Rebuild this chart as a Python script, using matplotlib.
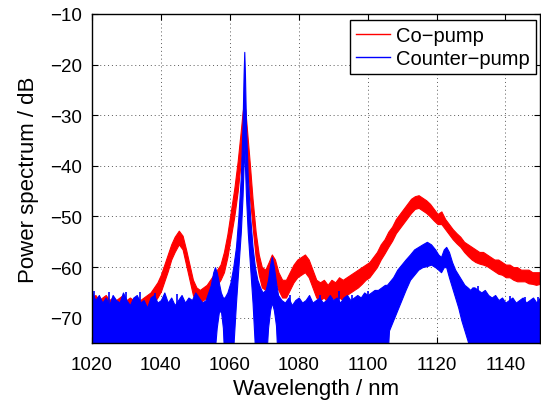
import matplotlib
matplotlib.use("Agg")
import matplotlib.pyplot as plt

plt.rcParams['font.family'] = ['Liberation Sans', 'DejaVu Sans']

# ---- data (upper / lower edges of the noisy traces, dB) ----
red_wl = [1020, 1021, 1022, 1023, 1024, 1025, 1026, 1027, 1028, 1029, 1030, 1031, 1032, 1033,
          1034, 1035, 1036, 1037, 1038, 1039, 1040, 1041, 1042, 1043, 1044, 1045.2, 1046.3,
          1047.3, 1048.3, 1049.3, 1050.3, 1051.3, 1052.3, 1053.3, 1054.3, 1055.3, 1056.3,
          1057.3, 1058.3, 1059.3, 1060.3, 1061.3, 1062.3, 1063.2, 1063.7, 1064.1, 1064.5,
          1065.0, 1065.8, 1066.6, 1067.5, 1068.4, 1069.3, 1070.3, 1071.3, 1072.2, 1073.1,
          1074.1, 1075.2, 1076.3, 1077.4, 1078.5, 1079.6, 1080.7, 1081.8, 1082.9, 1084.0,
          1085.1, 1086.2, 1087.3, 1088.4, 1089.5, 1090.6, 1091.7, 1092.8, 1093.9, 1095.0,
          1096.1, 1097.2, 1098.3, 1099.4, 1100.5, 1101.6, 1102.7, 1103.8, 1104.9, 1106.0,
          1107.1, 1108.2, 1109.3, 1110.4, 1111.5, 1112.6, 1113.7, 1114.8, 1115.9, 1117.0,
          1118.1, 1119.2, 1120.3, 1121.4, 1122.5, 1123.6, 1124.7, 1125.8, 1126.9, 1128.0,
          1129.1, 1130.2, 1131.3, 1132.4, 1133.5, 1134.6, 1135.7, 1136.8, 1137.9, 1139.0,
          1140.1, 1141.2, 1142.3, 1143.4, 1144.5, 1145.6, 1146.7, 1147.8, 1148.9, 1150.0]
red_hi = [-66.0, -65.5, -66.5, -66.0, -65.5, -66.5, -66.0, -66.5, -66.0, -65.5, -66.5, -66.0,
          -66.5, -66.0, -66.5, -66.0, -65.5, -65.0, -64.0, -63.0, -61.5, -59.5, -57.5, -55.5,
          -54.0, -52.8, -53.8, -56.5, -59.5, -62.5, -64.0, -64.5, -64.0, -63.5, -62.5, -61.5,
          -60.5, -59.5, -57.0, -53.5, -49.0, -44.5, -39.0, -33.0, -29.5, -27.5, -29.0, -33.0,
          -39.5, -46.5, -53.0, -57.5, -60.0, -60.5, -59.0, -57.5, -58.5, -61.0, -62.5, -62.5,
          -61.0, -59.5, -58.5, -58.0, -57.5, -58.5, -60.5, -62.5, -63.0, -62.5, -63.5, -62.5,
          -63.0, -62.0, -62.5, -62.0, -61.5, -61.0, -60.5, -60.0, -59.5, -59.0, -58.0, -57.0,
          -55.5, -54.5, -53.0, -52.0, -50.5, -49.5, -48.5, -47.5, -46.5, -46.0, -45.8, -46.3,
          -46.8, -47.5, -48.5, -49.5, -49.0, -50.5, -51.5, -52.5, -53.3, -54.0, -55.0, -55.5,
          -56.0, -56.5, -57.0, -57.0, -57.5, -58.0, -58.5, -58.5, -59.0, -59.5, -59.5, -60.0,
          -60.0, -60.5, -60.5, -60.5, -61.0, -61.0, -61.0]
red_lo = [-69.0, -68.5, -69.5, -69.0, -68.5, -69.0, -69.5, -69.0, -68.5, -69.0, -69.5, -69.0,
          -69.5, -69.0, -69.5, -69.0, -68.5, -68.0, -67.0, -66.0, -64.8, -62.8, -60.8, -58.5,
          -57.0, -55.5, -56.5, -59.5, -62.5, -65.5, -67.0, -67.0, -66.5, -66.0, -65.0, -64.0,
          -63.5, -62.5, -61.0, -58.0, -54.0, -50.0, -45.0, -39.0, -35.0, -32.0, -34.5, -39.5,
          -46.0, -52.0, -58.0, -61.5, -64.0, -64.5, -63.0, -61.5, -62.5, -64.5, -66.0, -66.0,
          -64.5, -63.0, -62.0, -61.5, -61.0, -62.0, -64.0, -66.0, -66.5, -66.0, -67.0, -66.0,
          -66.5, -66.0, -66.5, -65.5, -65.0, -64.5, -64.0, -63.3, -62.5, -62.0, -61.0, -60.0,
          -58.5, -57.3, -56.0, -54.8, -53.3, -52.3, -51.3, -50.3, -49.3, -48.5, -48.3, -48.8,
          -49.3, -50.0, -50.8, -51.5, -51.5, -52.5, -53.5, -54.5, -55.3, -56.0, -57.0, -57.8,
          -58.5, -59.0, -59.3, -59.5, -59.8, -60.3, -60.8, -61.3, -61.5, -62.0, -62.0, -62.5,
          -62.8, -62.8, -62.8, -63.2, -63.3, -63.5, -63.3]

blue_wl = [1020, 1021, 1022, 1023, 1024, 1025, 1026, 1027, 1028, 1029, 1030, 1031, 1032, 1033,
           1034, 1035, 1036, 1037, 1038, 1039, 1040, 1041, 1042, 1043, 1044, 1045, 1046, 1047,
           1048, 1049, 1050, 1051, 1052, 1053, 1054, 1054.5, 1055.2, 1055.7, 1056.2, 1056.8,
           1057.4, 1058.0, 1058.5, 1059.3, 1060.2, 1061.0, 1061.8, 1062.5, 1063.2, 1063.7,
           1064.0, 1064.2, 1064.4, 1064.7, 1065.2, 1065.9, 1066.6, 1067.3, 1068.0, 1068.8,
           1069.5, 1070.4, 1071.1, 1071.7, 1072.2, 1072.8, 1073.4, 1074.0, 1075, 1076, 1077,
           1078, 1079, 1080, 1081, 1082, 1083, 1084, 1085, 1086, 1087, 1088, 1089, 1090, 1091,
           1092, 1093, 1094, 1095, 1096, 1097, 1098, 1099, 1100, 1101, 1102, 1103, 1104, 1105,
           1105.6, 1106.2, 1107.4, 1108.6, 1109.8, 1111.0, 1112.3, 1113.5, 1114.7, 1115.9,
           1117.2, 1118.4, 1119.6, 1120.5, 1121.3, 1122.1, 1122.8, 1123.6, 1124.5, 1125.4,
           1126.3, 1127.2, 1128.1, 1129.0, 1129.8, 1130.4, 1131, 1132, 1133, 1134, 1135, 1136,
           1137, 1138, 1139, 1140, 1141, 1142, 1143, 1144, 1145, 1146, 1147, 1148, 1149, 1150]
blue_hi = [-65.0, -66.5, -65.5, -67.0, -66.0, -67.5, -65.5, -66.5, -67.0, -65.0, -66.5, -67.5,
           -66.0, -65.5, -67.0, -66.5, -68.0, -66.0, -65.5, -67.0, -66.5, -65.0, -67.0, -66.0,
           -67.5, -66.5, -65.5, -67.0, -66.0, -66.5, -65.0, -66.0, -67.0, -66.5, -64.5, -63.5,
           -61.0, -60.0, -61.0, -63.0, -65.0, -66.0, -66.0, -65.0, -63.0, -60.0, -56.0, -50.0,
           -42.0, -32.0, -22.0, -17.5, -22.0, -32.0, -42.0, -50.0, -56.0, -60.0, -62.5, -64.0,
           -65.0, -64.5, -62.5, -59.5, -58.0, -60.0, -63.0, -65.5, -66.5, -67.0, -66.0, -67.5,
           -66.5, -66.0, -67.0, -66.5, -65.5, -67.0, -66.5, -66.0, -67.0, -66.5, -65.5, -66.5,
           -66.0, -67.0, -66.0, -65.5, -66.5, -66.0, -65.5, -66.0, -65.0, -65.5, -65.0, -64.5,
           -64.5, -64.0, -63.5, -63.5, -63.0, -62.0, -60.5, -59.5, -58.5, -57.5, -56.5, -56.0,
           -55.5, -55.0, -55.5, -56.5, -57.5, -58.0, -56.5, -56.0, -57.0, -59.0, -60.5, -61.5,
           -62.5, -63.5, -64.0, -64.5, -64.0, -64.0, -64.5, -65.0, -64.5, -65.5, -66.0, -65.5,
           -66.5, -66.0, -67.0, -66.5, -66.0, -67.0, -66.5, -66.0, -67.0, -66.5, -66.0, -67.0,
           -66.0]
blue_lo = [-80.0] * 35 + [-80.0, -80.0, -76.0, -72.0, -69.0, -68.5, -72.0, -80.0, -80.0,
           -80.0, -76.0, -67.0, -60.0, -53.0, -46.0, -40.0, -36.0, -40.0, -46.0, -53.0, -60.0,
           -67.0, -76.0, -80.0, -80.0, -80.0, -80.0, -72.0, -68.5, -67.0, -68.5, -71.5,
           -80.0] + [-80.0] * 31 + [-80.0, -72.5, -70.5, -68.5, -66.5, -64.5, -62.5, -61.5,
           -60.5, -60.0, -59.8, -59.5, -60.0, -60.5, -61.0, -60.0, -60.0, -62.0, -64.0, -66.0,
           -68.0, -70.5, -72.5, -74.5, -76.5, -80.0] + [-80.0] * 20

# isolated noise spikes on top of the counter-pump noise floor
spike_wl = [1020.6, 1024.9, 1029.9, 1033.9, 1038.3, 1044.7, 1077.5, 1086.2, 1091.7, 1095.4,
            1100.0, 1132.0, 1141.3, 1145.7, 1149.4]
spike_top = [-64.7, -65.0, -65.0, -65.0, -65.2, -65.4, -65.5, -65.6, -64.7, -65.5, -64.8,
             -63.8, -65.7, -65.8, -65.8]

x_ticks = [1020, 1040, 1060, 1080, 1100, 1120, 1140]
y_ticks = [-70, -60, -50, -40, -30, -20, -10]
labels = ['Co\u2212pump', 'Counter\u2212pump']

fig = plt.figure(figsize=(5.41, 4.02), dpi=100)
ax = fig.add_axes([0.170, 0.144, 0.828, 0.819])

ax.fill_between(red_wl, red_lo, red_hi, color=(1, 0, 0), lw=0.8, zorder=2)
ax.fill_between(blue_wl, blue_lo, blue_hi, color=(0, 0, 1), lw=0.8, zorder=3)
ax.vlines(spike_wl, -80, spike_top, color=(0, 0, 1), lw=1.2, zorder=3)

ax.plot([], [], color=(1, 0, 0), lw=1.0, label=labels[0])
ax.plot([], [], color=(0, 0, 1), lw=1.0, label=labels[1])

ax.set_xlim(1020, 1150)
ax.set_ylim(-75, -10)
ax.set_xticks(x_ticks)
ax.set_yticks(y_ticks)
ax.grid(True, color='0.35', linestyle=(0, (1, 3)), lw=0.7)
for gl in ax.get_xgridlines() + ax.get_ygridlines():
    gl.set_zorder(1.5)
ax.tick_params(direction='in', length=4, width=0.8, top=True, right=True,
               labelsize=13.5)
ax.tick_params(axis='x', pad=9)
ax.tick_params(axis='y', pad=7)
for s in ax.spines.values():
    s.set_linewidth(1.0)
    s.set_zorder(5)

ax.set_xlabel('Wavelength / nm', fontsize=16, labelpad=4)
ax.set_ylabel('Power spectrum / dB', fontsize=16, labelpad=8)

leg = ax.legend(loc='upper right', bbox_to_anchor=(0.991, 0.982), borderaxespad=0,
                fontsize=14.5, fancybox=False, framealpha=1, edgecolor='black',
                handlelength=1.7, handletextpad=0.3, labelspacing=0.22,
                borderpad=0.3)
leg.get_frame().set_linewidth(1.0)
leg.set_zorder(6)

fig.savefig('out.png', dpi=100)
